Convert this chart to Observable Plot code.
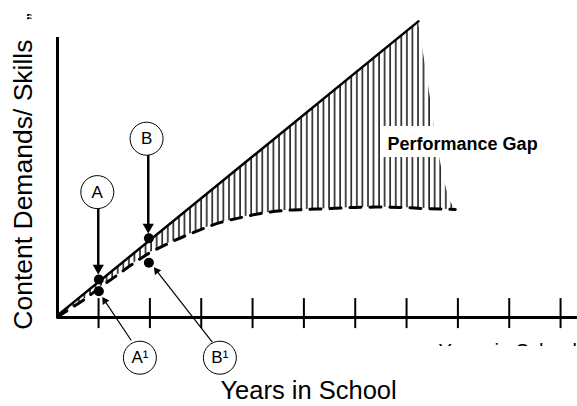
<!DOCTYPE html>
<html>
<head>
<meta charset="utf-8">
<script src="https://cdn.jsdelivr.net/npm/d3@7"></script>
<script src="https://cdn.jsdelivr.net/npm/@observablehq/plot@0.6"></script>
<style>
  html, body { margin: 0; padding: 0; background: #fff; }
  #chart svg { display: block; }
</style>
</head>
<body>
<div id="chart"></div>
<script>
// ---- data (x in years of school, y in content demand / skill units) ----
const tickYears = [1, 2, 3, 4, 5, 6, 7, 8, 9, 10];

// solid line: content demands
const demandYears  = [0.2, 7.23];
const demandValues = [0.7, 98.7];

// dashed curve: student skills
const skillYears  = [0.2, 0.455, 0.747, 1.0, 1.33, 1.62, 1.97, 2.31, 2.66, 2.99, 3.38, 3.77, 4.16, 4.64, 5.03, 5.52, 6.01, 6.40, 6.88, 7.37, 7.95];
const skillValues = [0.3, 3.0, 6.3, 9.7, 13.7, 17.3, 21.3, 24.3, 27.0, 29.3, 31.7, 33.3, 34.7, 35.7, 36.0, 36.3, 36.7, 36.8, 36.7, 36.3, 36.0];

// performance gap (hatched region between demands and skills)
const gapYears = [0.2, 0.455, 0.747, 1.0, 1.33, 1.62, 1.97, 2.31, 2.66, 2.99, 3.38, 3.77, 4.16, 4.64, 5.03, 5.52, 6.01, 6.40, 6.88, 7.23, 7.29, 7.39, 7.51, 7.60, 7.72, 7.84, 7.95];
const gapUpper = [0.7, 4.25, 8.3, 11.85, 16.45, 20.5, 25.4, 30.1, 35.0, 39.6, 45.0, 50.5, 55.9, 62.6, 68.0, 74.9, 81.7, 87.1, 93.8, 98.7, 92.3, 81.7, 68.0, 57.3, 46.7, 39.0, 36.0];
const gapLower = [0.3, 3.0, 6.3, 9.7, 13.7, 17.3, 21.3, 24.3, 27.0, 29.3, 31.7, 33.3, 34.7, 35.7, 36.0, 36.3, 36.7, 36.8, 36.7, 36.4, 36.4, 36.3, 36.2, 36.2, 36.1, 36.0, 36.0];

// marked points A, A1, B, B1
const pointNames  = ["A", "A¹", "B", "B¹"];
const pointYears  = [1.006, 1.006, 1.98, 1.98];
const pointValues = [12.67, 8.77, 26.43, 18.23];

// callout circles
const calloutLabels = ["A", "B", "A¹", "B¹"];
const calloutYears  = [0.975, 1.935, 1.805, 3.363];
const calloutValues = [41.8, 59.6, -13.4, -13.4];

// thick vertical arrows (from circle A / B down to the demand line)
const bigArrowX      = [0.994, 1.968];
const bigArrowFrom   = [36.3, 54.2];
const bigArrowTo     = [17.0, 30.5];
const bigHeadValues  = [16.5, 30.2];

// thin arrows (from circles A1 / B1 to the skill points)
const thinFromYears  = [1.637, 3.215];
const thinFromValues = [-7.67, -8.23];
const thinToYears    = [1.121, 2.132];
const thinToValues   = [5.53, 15.57];
const thinHeadAngle  = [-33.8, -37.9];

// axis extents
const axisStartYear = 0.2;
const axisEndYear   = 10.33;
const yAxisTop      = 93.3;
const tickTop       = 6.3;
const tickBottom    = -3.7;

// texts
const gapLabel      = "Performance Gap";
const xTitle        = "Years in School";
const yTitle        = "Content Demands/ Skills";

const gapTable   = gapYears.map((x, i) => ({x, upper: gapUpper[i], lower: gapLower[i]}));
const demand     = demandYears.map((x, i) => ({x, y: demandValues[i]}));
const skills     = skillYears.map((x, i) => ({x, y: skillValues[i]}));
const points     = pointNames.map((n, i) => ({n, x: pointYears[i], y: pointValues[i]}));
const callouts   = calloutLabels.map((t, i) => ({t, x: calloutYears[i], y: calloutValues[i]}));
const bigArrows  = bigArrowX.map((x, i) => ({x, y1: bigArrowFrom[i], y2: bigArrowTo[i], yh: bigHeadValues[i]}));
const thinArrows = thinFromYears.map((x, i) => ({x1: x, y1: thinFromValues[i], x2: thinToYears[i], y2: thinToValues[i], a: thinHeadAngle[i]}));

const chart = Plot.plot({
  width: 577,
  height: 406,
  marginLeft: 57,
  marginRight: 0,
  marginTop: 17,
  marginBottom: 89,
  x: {domain: [axisStartYear, axisEndYear], axis: null},
  y: {domain: [0, 100], axis: null},
  style: {fontFamily: "'Liberation Sans', Arial, Helvetica, sans-serif", background: "white", color: "black", overflow: "visible"},
  marks: [
    // hatched performance gap
    Plot.areaY(gapTable, {x: "x", y1: "lower", y2: "upper", fill: "url(#gap-hatch)"}),
    // axes
    Plot.ruleY([0], {x1: axisStartYear, x2: axisEndYear, stroke: "black", strokeWidth: 3}),
    Plot.ruleX([axisStartYear], {y1: -0.5, y2: yAxisTop, stroke: "black", strokeWidth: 3}),
    Plot.ruleX(tickYears, {y1: tickTop, y2: tickBottom, stroke: "black", strokeWidth: 2}),
    // demand line and skill curve
    Plot.line(demand, {x: "x", y: "y", stroke: "black", strokeWidth: 2.5}),
    Plot.line(skills, {x: "x", y: "y", stroke: "black", strokeWidth: 3, strokeDasharray: "11,9", curve: "monotone-x"}),
    // performance gap label with white box
    Plot.rect([{x1: 6.53, x2: 9.71, y1: 53.33, y2: 63.67}], {x1: "x1", x2: "x2", y1: "y1", y2: "y2", fill: "white"}),
    Plot.text([gapLabel], {x: 6.63, y: 57.9, text: d => d, textAnchor: "start", fontSize: 18, fontWeight: "bold"}),
    // arrows
    Plot.link(bigArrows, {x1: "x", x2: "x", y1: "y1", y2: "y2", stroke: "black", strokeWidth: 2.5}),
    Plot.dot(bigArrows, {x: "x", y: "yh", symbol: "triangle2", r: 5.4, fill: "black", stroke: "none", rotate: 180}),
    Plot.link(thinArrows, {x1: "x1", y1: "y1", x2: "x2", y2: "y2", stroke: "black", strokeWidth: 1.2}),
    Plot.dot(thinArrows, {x: "x2", y: "y2", symbol: "triangle2", r: 3.8, fill: "black", stroke: "none", rotate: "a"}),
    // marked points
    Plot.dot(points, {x: "x", y: "y", r: 5, fill: "black", stroke: "none"}),
    // callout circles
    Plot.dot(callouts, {x: "x", y: "y", r: 16.5, fill: "white", stroke: "black", strokeWidth: 1}),
    Plot.text(callouts, {x: "x", y: "y", text: "t", fontSize: 17}),
    // axis titles
    Plot.text([xTitle], {x: 5.091, y: -24.6, text: d => d, fontSize: 25.5}),
    Plot.text([yTitle], {x: -0.469, y: 44.3, text: d => d, fontSize: 26.5, rotate: -90}),
    // partly hidden duplicate title at the lower right
    Plot.text([xTitle], {x: 7.624, y: -11.2, text: d => d, textAnchor: "start", fontSize: 20}),
    Plot.rect([{x1: 7.4, x2: 10.6, y1: -16.5, y2: -9.67}], {x1: "x1", x2: "x2", y1: "y1", y2: "y2", fill: "white"}),
    // stray quote mark at the top left
    Plot.text(["\u201D"], {x: -0.247, y: 100.3, text: d => d, fontSize: 20, rotate: -90})
  ]
});

// hatch pattern definition
const svgNS = "http://www.w3.org/2000/svg";
const defs = document.createElementNS(svgNS, "defs");
const pattern = document.createElementNS(svgNS, "pattern");
pattern.setAttribute("id", "gap-hatch");
pattern.setAttribute("patternUnits", "userSpaceOnUse");
pattern.setAttribute("width", "5.56");
pattern.setAttribute("height", "20");
const ln = document.createElementNS(svgNS, "line");
ln.setAttribute("x1", "1"); ln.setAttribute("x2", "1");
ln.setAttribute("y1", "0"); ln.setAttribute("y2", "20");
ln.setAttribute("stroke", "black");
ln.setAttribute("stroke-width", "1.4");
pattern.appendChild(ln);
defs.appendChild(pattern);
chart.insertBefore(defs, chart.firstChild);

document.getElementById("chart").appendChild(chart);
</script>
</body>
</html>
